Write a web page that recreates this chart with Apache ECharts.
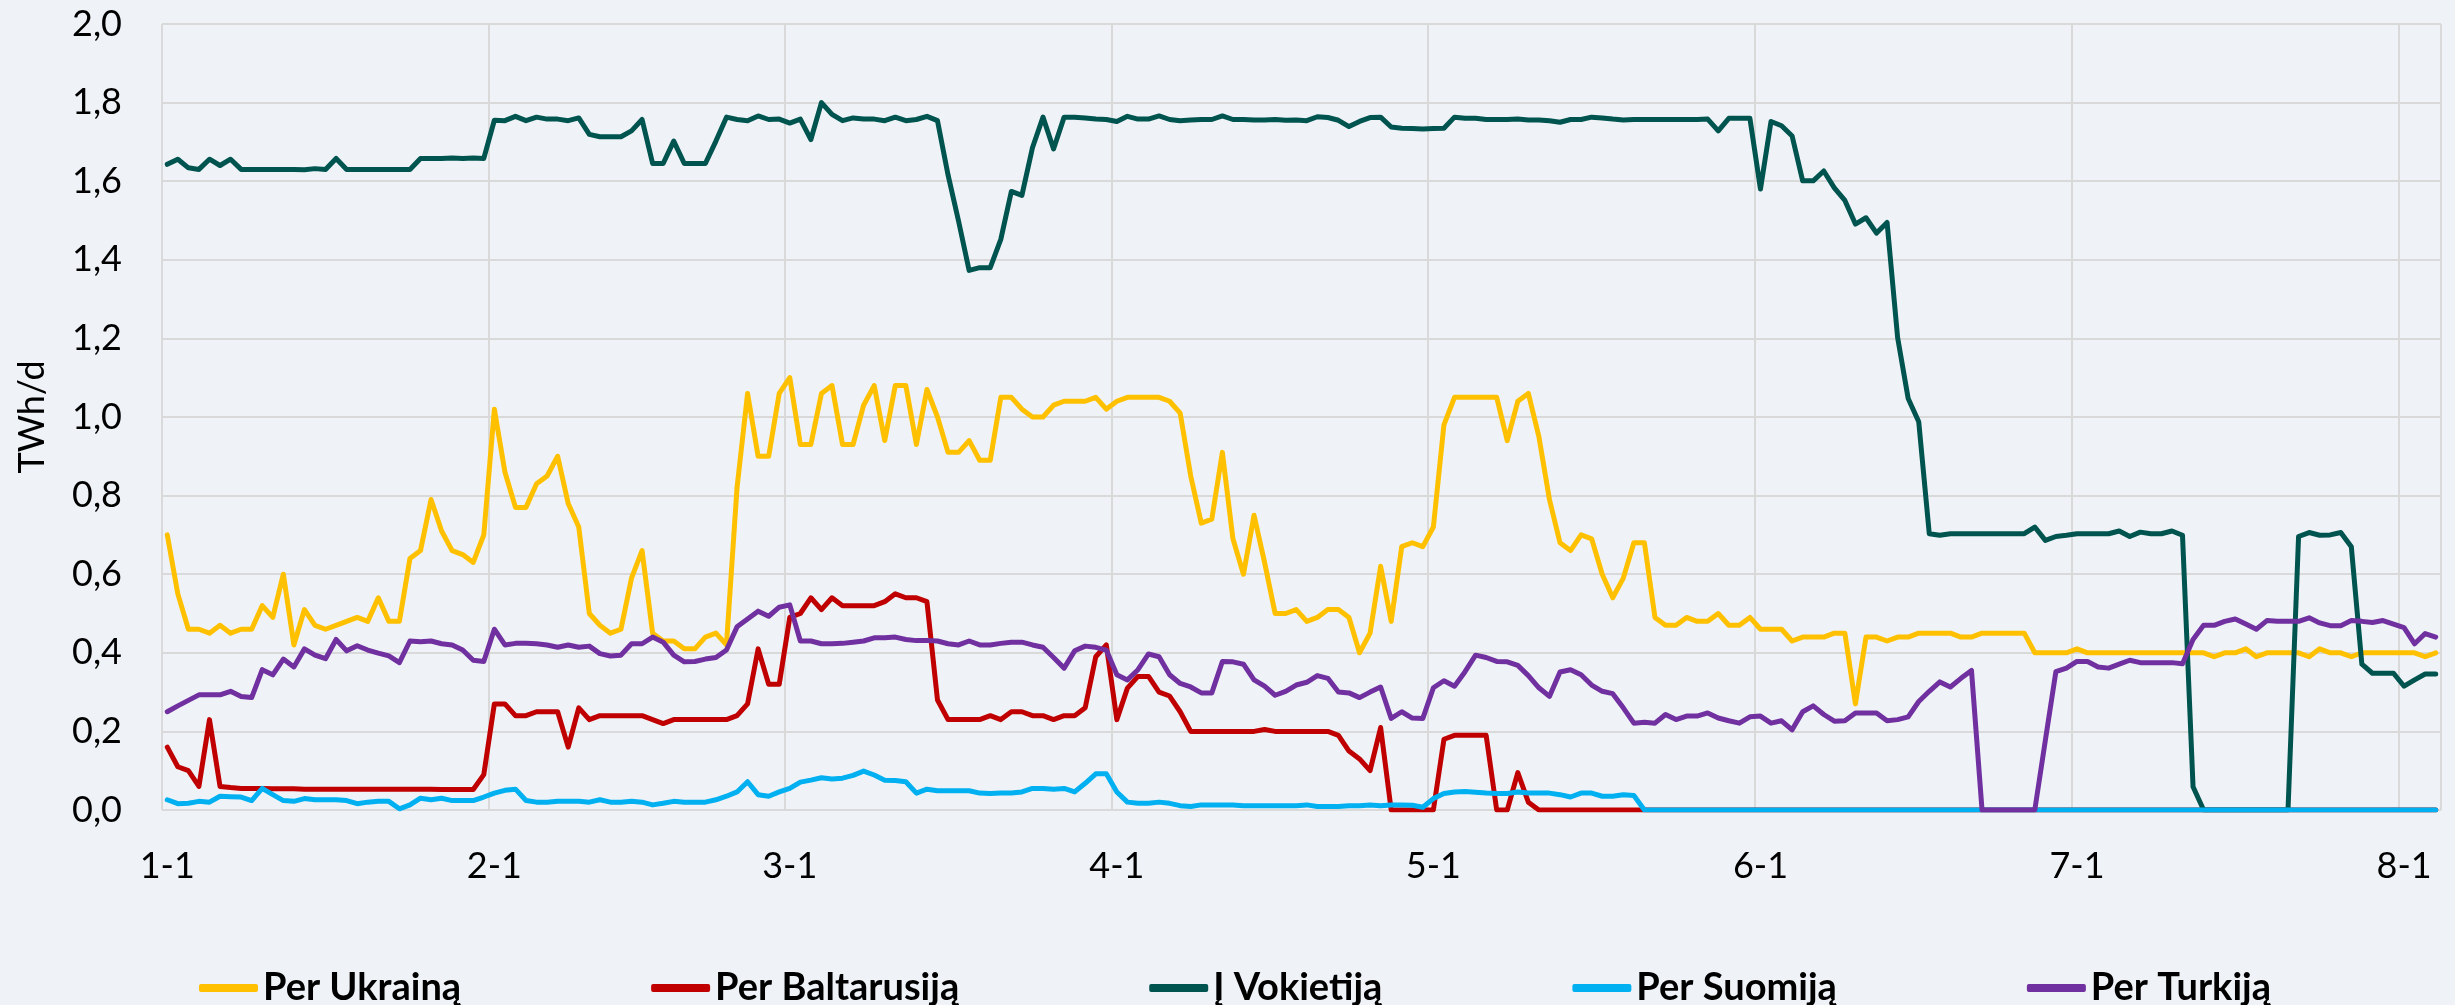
<!DOCTYPE html>
<html>
<head>
<meta charset="utf-8">
<script src="https://cdn.jsdelivr.net/npm/echarts@6/dist/echarts.min.js"></script>
<style>
  html, body { margin: 0; padding: 0; background: #EFF3F7; }
  #chart { width: 2455px; height: 1005px; }
</style>
</head>
<body>
<div id="chart"></div>
<script>
// dienos nuo 1-1 iki 8-4
const days = []
for (let i = 0; i < 216; i++) {
  const d = new Date(Date.UTC(2022, 0, 1 + i))
  days.push((d.getUTCMonth() + 1) + '-' + d.getUTCDate())
}

const seriesNames = ['Per Ukrainą', 'Per Baltarusiją', 'Į Vokietiją', 'Per Suomiją', 'Per Turkiją']
const seriesColors = ['#FFC000', '#C00000', '#00544F', '#00B0F0', '#7030A0']

const ukraina = [
  0.70, 0.55, 0.46, 0.46, 0.45, 0.47, 0.45, 0.46, 0.46, 0.52,
  0.49, 0.60, 0.42, 0.51, 0.47, 0.46, 0.47, 0.48, 0.49, 0.48,
  0.54, 0.48, 0.48, 0.64, 0.66, 0.79, 0.71, 0.66, 0.65, 0.63,
  0.70, 1.02, 0.86, 0.77, 0.77, 0.83, 0.85, 0.90, 0.78, 0.72,
  0.50, 0.47, 0.45, 0.46, 0.59, 0.66, 0.45, 0.43, 0.43, 0.41,
  0.41, 0.44, 0.45, 0.42, 0.82, 1.06, 0.90, 0.90, 1.06, 1.10,
  0.93, 0.93, 1.06, 1.08, 0.93, 0.93, 1.03, 1.08, 0.94, 1.08,
  1.08, 0.93, 1.07, 1.00, 0.91, 0.91, 0.94, 0.89, 0.89, 1.05,
  1.05, 1.02, 1.00, 1.00, 1.03, 1.04, 1.04, 1.04, 1.05, 1.02,
  1.04, 1.05, 1.05, 1.05, 1.05, 1.04, 1.01, 0.85, 0.73, 0.74,
  0.91, 0.69, 0.60, 0.75, 0.63, 0.50, 0.50, 0.51, 0.48, 0.49,
  0.51, 0.51, 0.49, 0.40, 0.45, 0.62, 0.48, 0.67, 0.68, 0.67,
  0.72, 0.98, 1.05, 1.05, 1.05, 1.05, 1.05, 0.94, 1.04, 1.06,
  0.95, 0.79, 0.68, 0.66, 0.70, 0.69, 0.60, 0.54, 0.59, 0.68,
  0.68, 0.49, 0.47, 0.47, 0.49, 0.48, 0.48, 0.50, 0.47, 0.47,
  0.49, 0.46, 0.46, 0.46, 0.43, 0.44, 0.44, 0.44, 0.45, 0.45,
  0.27, 0.44, 0.44, 0.43, 0.44, 0.44, 0.45, 0.45, 0.45, 0.45,
  0.44, 0.44, 0.45, 0.45, 0.45, 0.45, 0.45, 0.40, 0.40, 0.40,
  0.40, 0.41, 0.40, 0.40, 0.40, 0.40, 0.40, 0.40, 0.40, 0.40,
  0.40, 0.40, 0.40, 0.40, 0.39, 0.40, 0.40, 0.41, 0.39, 0.40,
  0.40, 0.40, 0.40, 0.39, 0.41, 0.40, 0.40, 0.39, 0.40, 0.40,
  0.40, 0.40, 0.40, 0.40, 0.39, 0.40
]

const baltarusija = [
  0.16, 0.11, 0.10, 0.06, 0.23, 0.06, 0.057, 0.055, 0.055, 0.055,
  0.054, 0.054, 0.054, 0.053, 0.053, 0.053, 0.053, 0.053, 0.053, 0.053,
  0.053, 0.053, 0.053, 0.053, 0.053, 0.053, 0.052, 0.052, 0.052, 0.052,
  0.09, 0.27, 0.27, 0.24, 0.24, 0.25, 0.25, 0.25, 0.16, 0.26,
  0.23, 0.24, 0.24, 0.24, 0.24, 0.24, 0.23, 0.22, 0.23, 0.23,
  0.23, 0.23, 0.23, 0.23, 0.24, 0.27, 0.41, 0.32, 0.32, 0.49,
  0.50, 0.54, 0.51, 0.54, 0.52, 0.52, 0.52, 0.52, 0.53, 0.55,
  0.54, 0.54, 0.53, 0.28, 0.23, 0.23, 0.23, 0.23, 0.24, 0.23,
  0.25, 0.25, 0.24, 0.24, 0.23, 0.24, 0.24, 0.26, 0.39, 0.42,
  0.23, 0.31, 0.34, 0.34, 0.30, 0.29, 0.25, 0.20, 0.20, 0.20,
  0.20, 0.20, 0.20, 0.20, 0.205, 0.20, 0.20, 0.20, 0.20, 0.20,
  0.20, 0.19, 0.15, 0.13, 0.10, 0.21, 0, 0, 0, 0,
  0, 0.18, 0.19, 0.19, 0.19, 0.19, 0, 0, 0.095, 0.02,
  0, 0, 0, 0, 0, 0, 0, 0, 0, 0,
  0, 0, 0, 0, 0, 0, 0, 0, 0, 0,
  0, 0, 0, 0, 0, 0, 0, 0, 0, 0,
  0, 0, 0, 0, 0, 0, 0, 0, 0, 0,
  0, 0, 0, 0, 0, 0, 0, 0, 0, 0,
  0, 0, 0, 0, 0, 0, 0, 0, 0, 0,
  0, 0, 0, 0, 0, 0, 0, 0, 0, 0,
  0, 0, 0, 0, 0, 0, 0, 0, 0, 0,
  0, 0, 0, 0, 0, 0
]

const vokietija = [
  1.643, 1.656, 1.634, 1.630, 1.656, 1.640, 1.656, 1.630, 1.630, 1.630,
  1.630, 1.630, 1.630, 1.629, 1.632, 1.630, 1.658, 1.630, 1.630, 1.630,
  1.630, 1.630, 1.630, 1.630, 1.658, 1.658, 1.658, 1.659, 1.658, 1.659,
  1.658, 1.755, 1.754, 1.765, 1.754, 1.763, 1.758, 1.758, 1.754, 1.761,
  1.719, 1.713, 1.713, 1.713, 1.728, 1.757, 1.645, 1.645, 1.702, 1.645,
  1.645, 1.645, 1.702, 1.763, 1.757, 1.754, 1.766, 1.757, 1.758, 1.748,
  1.758, 1.706, 1.800, 1.770, 1.754, 1.761, 1.758, 1.758, 1.754, 1.763,
  1.754, 1.757, 1.765, 1.754, 1.616, 1.498, 1.373, 1.380, 1.380, 1.452,
  1.574, 1.564, 1.685, 1.763, 1.682, 1.763, 1.763, 1.761, 1.758, 1.757,
  1.752, 1.765, 1.758, 1.758, 1.766, 1.757, 1.754, 1.756, 1.757, 1.757,
  1.766, 1.757, 1.757, 1.756, 1.756, 1.757, 1.755, 1.756, 1.754, 1.764,
  1.762, 1.755, 1.739, 1.752, 1.762, 1.763, 1.738, 1.735, 1.734, 1.733,
  1.734, 1.735, 1.763, 1.760, 1.760, 1.757, 1.757, 1.757, 1.758, 1.756,
  1.756, 1.754, 1.750, 1.757, 1.757, 1.763, 1.761, 1.758, 1.756, 1.757,
  1.757, 1.757, 1.757, 1.757, 1.757, 1.757, 1.758, 1.728, 1.760, 1.760,
  1.760, 1.580, 1.752, 1.741, 1.715, 1.601, 1.601, 1.626, 1.583, 1.551,
  1.491, 1.507, 1.468, 1.495, 1.202, 1.047, 0.988, 0.703, 0.699, 0.703,
  0.703, 0.703, 0.703, 0.703, 0.703, 0.703, 0.703, 0.720, 0.686, 0.696,
  0.699, 0.703, 0.703, 0.703, 0.703, 0.710, 0.696, 0.707, 0.703, 0.703,
  0.710, 0.699, 0.059, 0, 0, 0, 0, 0, 0, 0,
  0, 0, 0.696, 0.706, 0.699, 0.700, 0.706, 0.670, 0.371, 0.348,
  0.348, 0.348, 0.315, 0.331, 0.346, 0.346
]

const suomija = [
  0.026, 0.016, 0.017, 0.022, 0.020, 0.035, 0.034, 0.033, 0.024, 0.055,
  0.039, 0.024, 0.022, 0.029, 0.026, 0.026, 0.026, 0.024, 0.016, 0.020,
  0.022, 0.022, 0.003, 0.013, 0.030, 0.026, 0.030, 0.024, 0.024, 0.024,
  0.033, 0.043, 0.050, 0.053, 0.024, 0.020, 0.020, 0.022, 0.022, 0.022,
  0.020, 0.026, 0.020, 0.020, 0.022, 0.020, 0.013, 0.017, 0.022, 0.020,
  0.020, 0.020, 0.026, 0.035, 0.046, 0.072, 0.039, 0.035, 0.046, 0.055,
  0.071, 0.076, 0.082, 0.079, 0.081, 0.088, 0.099, 0.089, 0.076, 0.075,
  0.072, 0.043, 0.053, 0.049, 0.049, 0.049, 0.049, 0.043, 0.042, 0.043,
  0.043, 0.046, 0.055, 0.055, 0.053, 0.055, 0.046, 0.068, 0.092, 0.092,
  0.046, 0.020, 0.017, 0.017, 0.020, 0.017, 0.011, 0.009, 0.013, 0.013,
  0.013, 0.013, 0.011, 0.011, 0.011, 0.011, 0.011, 0.011, 0.013, 0.009,
  0.009, 0.009, 0.011, 0.011, 0.013, 0.011, 0.013, 0.013, 0.012, 0.007,
  0.029, 0.042, 0.046, 0.047, 0.045, 0.043, 0.042, 0.042, 0.046, 0.043,
  0.043, 0.043, 0.039, 0.033, 0.043, 0.043, 0.035, 0.035, 0.039, 0.037,
  0, 0, 0, 0, 0, 0, 0, 0, 0, 0,
  0, 0, 0, 0, 0, 0, 0, 0, 0, 0,
  0, 0, 0, 0, 0, 0, 0, 0, 0, 0,
  0, 0, 0, 0, 0, 0, 0, 0, 0, 0,
  0, 0, 0, 0, 0, 0, 0, 0, 0, 0,
  0, 0, 0, 0, 0, 0, 0, 0, 0, 0,
  0, 0, 0, 0, 0, 0, 0, 0, 0, 0,
  0, 0, 0, 0, 0, 0
]

const turkija = [
  0.250, 0.265, 0.279, 0.293, 0.293, 0.293, 0.302, 0.289, 0.286, 0.357,
  0.344, 0.384, 0.364, 0.410, 0.394, 0.385, 0.434, 0.405, 0.418, 0.407,
  0.399, 0.392, 0.375, 0.430, 0.428, 0.430, 0.423, 0.420, 0.407, 0.381,
  0.378, 0.460, 0.420, 0.424, 0.424, 0.423, 0.420, 0.414, 0.420, 0.414,
  0.417, 0.398, 0.392, 0.394, 0.423, 0.423, 0.440, 0.427, 0.394, 0.377,
  0.378, 0.384, 0.388, 0.407, 0.466, 0.486, 0.506, 0.493, 0.516, 0.522,
  0.430, 0.430, 0.423, 0.423, 0.424, 0.427, 0.430, 0.438, 0.438, 0.440,
  0.434, 0.431, 0.431, 0.430, 0.423, 0.420, 0.430, 0.420, 0.420, 0.424,
  0.427, 0.427, 0.420, 0.414, 0.388, 0.361, 0.405, 0.417, 0.414, 0.407,
  0.344, 0.331, 0.357, 0.397, 0.390, 0.344, 0.322, 0.313, 0.298, 0.298,
  0.378, 0.377, 0.371, 0.331, 0.315, 0.292, 0.302, 0.318, 0.325, 0.342,
  0.335, 0.300, 0.298, 0.286, 0.300, 0.313, 0.233, 0.250, 0.234, 0.233,
  0.311, 0.329, 0.315, 0.352, 0.394, 0.388, 0.378, 0.377, 0.368, 0.342,
  0.311, 0.289, 0.351, 0.357, 0.344, 0.318, 0.302, 0.296, 0.260, 0.221,
  0.223, 0.221, 0.243, 0.230, 0.239, 0.239, 0.247, 0.234, 0.227, 0.221,
  0.237, 0.239, 0.221, 0.227, 0.204, 0.250, 0.265, 0.243, 0.226, 0.227,
  0.247, 0.247, 0.247, 0.227, 0.230, 0.237, 0.276, 0.302, 0.326, 0.313,
  0.335, 0.355, 0, 0, 0, 0, 0, 0, 0.177, 0.352,
  0.361, 0.378, 0.378, 0.364, 0.361, 0.371, 0.381, 0.375, 0.375, 0.375,
  0.375, 0.372, 0.434, 0.470, 0.470, 0.480, 0.486, 0.473, 0.460, 0.482,
  0.480, 0.480, 0.480, 0.489, 0.476, 0.469, 0.469, 0.482, 0.480, 0.477,
  0.482, 0.473, 0.464, 0.423, 0.449, 0.440
]

const seriesData = [ukraina, baltarusija, vokietija, suomija, turkija]

const font = 'Lato'
const gridColor = '#D9D9D9'
const monthStart = (i, v) => /-1$/.test(v)

const chart = echarts.init(document.getElementById('chart'), null, { renderer: 'canvas' })

chart.setOption({
  animation: false,
  backgroundColor: '#EFF3F7',
  color: seriesColors,
  grid: {
    left: 162,
    right: 14,
    top: 24,
    bottom: 195
  },
  legend: {
    left: 194,
    top: 964,
    icon: 'roundRect',
    itemWidth: 59,
    itemHeight: 8,
    itemGap: 190,
    textStyle: {
      fontFamily: font,
      fontWeight: 'bold',
      fontSize: 38,
      color: '#000'
    },
    data: seriesNames
  },
  xAxis: {
    type: 'category',
    boundaryGap: true,
    data: days,
    axisLine: { show: false },
    axisTick: { show: false },
    axisLabel: {
      interval: monthStart,
      margin: 38,
      color: '#000',
      fontFamily: font,
      fontSize: 36
    },
    splitLine: {
      show: true,
      interval: monthStart,
      lineStyle: { color: gridColor, width: 2 }
    }
  },
  yAxis: {
    type: 'value',
    min: 0,
    max: 2,
    interval: 0.2,
    name: 'TWh/d',
    nameLocation: 'middle',
    nameGap: 112,
    nameRotate: 90,
    nameTextStyle: {
      fontFamily: font,
      fontSize: 36,
      color: '#000'
    },
    axisLine: { show: false },
    axisTick: { show: false },
    axisLabel: {
      margin: 40,
      color: '#000',
      fontFamily: font,
      fontSize: 36,
      formatter: (v) => v.toFixed(1).replace('.', ',')
    },
    splitLine: {
      lineStyle: { color: gridColor, width: 2 }
    }
  },
  series: seriesNames.map((name, i) => ({
    name: name,
    type: 'line',
    data: seriesData[i],
    showSymbol: false,
    symbol: 'none',
    lineStyle: {
      color: seriesColors[i],
      width: 5,
      cap: 'round',
      join: 'round'
    },
    itemStyle: { color: seriesColors[i] }
  }))
})
</script>
</body>
</html>
